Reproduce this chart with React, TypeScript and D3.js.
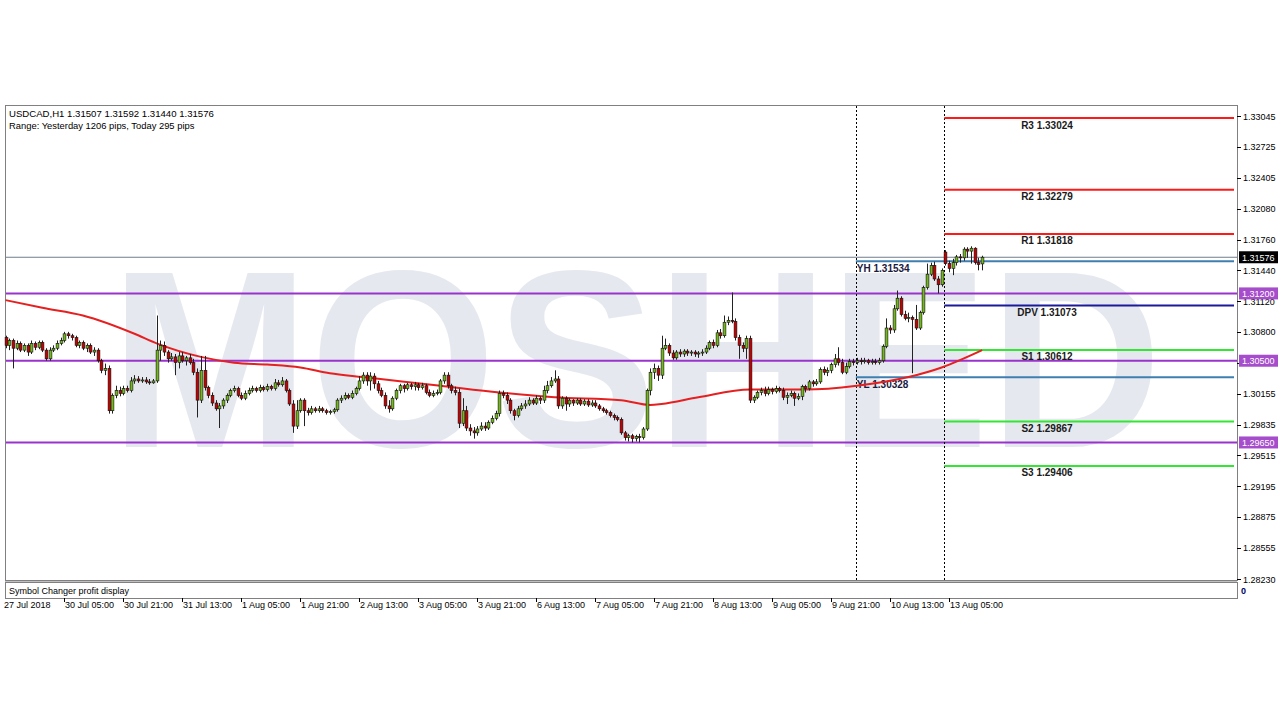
import React from "react";
import * as d3 from "d3";

// ---------- DATA ----------
const symbolHeader = "USDCAD,H1  1.31507 1.31592 1.31440 1.31576";
const rangeHeader = "Range: Yesterday 1206 pips, Today 295 pips";
const subWindowTitle = "Symbol Changer profit display";

// Hourly candles [open, high, low, close]
const candles: [number, number, number, number][] = [
  [1.3074,1.3076,1.3063,1.3066],[1.3066,1.3073,1.3061,1.3071],[1.3071,1.3073,1.3042,1.3063],[1.3063,1.3071,1.3061,1.3068],
  [1.3068,1.3070,1.3059,1.3061],[1.3061,1.3068,1.3059,1.3066],[1.3066,1.3068,1.3055,1.3059],[1.3059,1.3071,1.3057,1.3068],
  [1.3068,1.3070,1.3061,1.3064],[1.3064,1.3071,1.3062,1.3069],[1.3069,1.3071,1.3059,1.3061],[1.3061,1.3063,1.3050,1.3052],
  [1.3052,1.3064,1.3050,1.3061],[1.3061,1.3066,1.3059,1.3063],[1.3063,1.3071,1.3061,1.3068],[1.3068,1.3074,1.3066,1.3071],
  [1.3071,1.3080,1.3069,1.3078],[1.3078,1.3080,1.3073,1.3076],[1.3076,1.3078,1.3071,1.3074],[1.3074,1.3076,1.3064,1.3066],
  [1.3066,1.3071,1.3063,1.3069],[1.3069,1.3071,1.3061,1.3063],[1.3063,1.3068,1.3059,1.3066],[1.3066,1.3068,1.3057,1.3059],
  [1.3059,1.3064,1.3055,1.3061],[1.3061,1.3063,1.3048,1.3050],[1.3050,1.3052,1.3037,1.3040],[1.3040,1.3047,1.3035,1.3042],
  [1.3042,1.3045,1.2995,1.2998],[1.2998,1.3016,1.2995,1.3014],[1.3014,1.3024,1.3011,1.3019],[1.3019,1.3023,1.3013,1.3016],
  [1.3016,1.3024,1.3014,1.3021],[1.3021,1.3024,1.3017,1.3019],[1.3019,1.3033,1.3017,1.3029],[1.3029,1.3035,1.3026,1.3031],
  [1.3031,1.3034,1.3027,1.3029],[1.3029,1.3033,1.3027,1.3030],[1.3030,1.3033,1.3026,1.3028],[1.3028,1.3031,1.3025,1.3027],
  [1.3027,1.3031,1.3026,1.3029],[1.3029,1.3097,1.3027,1.3061],[1.3061,1.3071,1.3050,1.3066],[1.3066,1.3070,1.3055,1.3059],
  [1.3059,1.3061,1.3048,1.3052],[1.3052,1.3058,1.3050,1.3054],[1.3054,1.3057,1.3035,1.3048],[1.3048,1.3059,1.3042,1.3055],
  [1.3055,1.3059,1.3048,1.3050],[1.3050,1.3055,1.3045,1.3053],[1.3053,1.3057,1.3046,1.3048],[1.3048,1.3052,1.3035,1.3038],
  [1.3038,1.3042,1.2991,1.3009],[1.3009,1.3055,1.3006,1.3040],[1.3040,1.3055,1.3019,1.3022],[1.3022,1.3024,1.3011,1.3014],
  [1.3014,1.3017,1.3003,1.3006],[1.3006,1.3009,1.2998,1.3000],[1.3000,1.3006,1.2980,1.3003],[1.3003,1.3011,1.3000,1.3009],
  [1.3009,1.3016,1.3006,1.3014],[1.3014,1.3021,1.3012,1.3019],[1.3019,1.3024,1.3017,1.3021],[1.3021,1.3023,1.3012,1.3014],
  [1.3014,1.3017,1.3009,1.3011],[1.3011,1.3019,1.3009,1.3016],[1.3016,1.3022,1.3014,1.3019],[1.3019,1.3024,1.3017,1.3021],
  [1.3021,1.3023,1.3017,1.3019],[1.3019,1.3025,1.3017,1.3022],[1.3022,1.3024,1.3018,1.3020],[1.3020,1.3026,1.3018,1.3023],
  [1.3023,1.3025,1.3019,1.3021],[1.3021,1.3031,1.3019,1.3027],[1.3027,1.3030,1.3023,1.3025],[1.3025,1.3033,1.3023,1.3029],
  [1.3029,1.3031,1.3017,1.3019],[1.3019,1.3021,1.3003,1.3005],[1.3005,1.3009,1.2975,1.2982],[1.2982,1.3009,1.2979,1.2998],
  [1.2998,1.3011,1.2996,1.3009],[1.3009,1.3011,1.2982,1.2998],[1.2998,1.3001,1.2993,1.2996],[1.2996,1.3003,1.2994,1.3000],
  [1.3000,1.3002,1.2996,1.2998],[1.2998,1.3003,1.2996,1.3000],[1.3000,1.3002,1.2996,1.2998],[1.2998,1.3000,1.2994,1.2996],
  [1.2996,1.2999,1.2994,1.2997],[1.2997,1.3001,1.2995,1.2999],[1.2999,1.3011,1.2997,1.3009],[1.3009,1.3014,1.3006,1.3011],
  [1.3011,1.3017,1.3009,1.3014],[1.3014,1.3016,1.3010,1.3012],[1.3012,1.3019,1.3010,1.3016],[1.3016,1.3023,1.3014,1.3021],
  [1.3021,1.3034,1.3019,1.3029],[1.3029,1.3038,1.3026,1.3035],[1.3035,1.3038,1.3024,1.3029],[1.3029,1.3038,1.3019,1.3034],
  [1.3034,1.3037,1.3021,1.3026],[1.3026,1.3029,1.3016,1.3019],[1.3019,1.3022,1.3012,1.3014],[1.3014,1.3017,1.3000,1.3003],
  [1.3003,1.3009,1.2996,1.3000],[1.3000,1.3013,1.2998,1.3011],[1.3011,1.3021,1.3009,1.3019],[1.3019,1.3026,1.3016,1.3024],
  [1.3024,1.3026,1.3017,1.3021],[1.3021,1.3027,1.3019,1.3025],[1.3025,1.3027,1.3020,1.3023],[1.3023,1.3028,1.3019,1.3025],
  [1.3025,1.3027,1.3019,1.3022],[1.3022,1.3027,1.3020,1.3024],[1.3024,1.3026,1.3015,1.3017],[1.3017,1.3020,1.3012,1.3014],
  [1.3014,1.3019,1.3012,1.3016],[1.3016,1.3020,1.3014,1.3017],[1.3017,1.3031,1.3015,1.3029],[1.3029,1.3038,1.3026,1.3035],
  [1.3035,1.3038,1.3021,1.3024],[1.3024,1.3026,1.3016,1.3019],[1.3019,1.3023,1.3014,1.3017],[1.3017,1.3021,1.2980,1.2985],
  [1.2985,1.3011,1.2982,1.2998],[1.2998,1.3003,1.2977,1.2980],[1.2980,1.2984,1.2972,1.2977],[1.2977,1.2981,1.2969,1.2975],
  [1.2975,1.2982,1.2972,1.2979],[1.2979,1.2986,1.2977,1.2982],[1.2982,1.2986,1.2977,1.2980],[1.2980,1.2988,1.2978,1.2986],
  [1.2986,1.2993,1.2984,1.2990],[1.2990,1.2998,1.2988,1.2995],[1.2995,1.3019,1.2992,1.3016],[1.3016,1.3019,1.3011,1.3014],
  [1.3014,1.3017,1.3005,1.3009],[1.3009,1.3011,1.2995,1.2998],[1.2998,1.3000,1.2988,1.2993],[1.2993,1.3003,1.2991,1.3000],
  [1.3000,1.3006,1.2998,1.3003],[1.3003,1.3009,1.3000,1.3005],[1.3005,1.3012,1.3003,1.3009],[1.3009,1.3011,1.3004,1.3006],
  [1.3006,1.3014,1.3004,1.3011],[1.3011,1.3013,1.3005,1.3009],[1.3009,1.3024,1.3006,1.3019],[1.3019,1.3029,1.3016,1.3024],
  [1.3024,1.3033,1.3022,1.3029],[1.3029,1.3040,1.3027,1.3031],[1.3031,1.3034,1.3000,1.3003],[1.3003,1.3013,1.3000,1.3011],
  [1.3011,1.3013,1.2998,1.3005],[1.3005,1.3011,1.3002,1.3009],[1.3009,1.3010,1.3003,1.3006],[1.3006,1.3011,1.3004,1.3009],
  [1.3009,1.3011,1.3003,1.3005],[1.3005,1.3010,1.3003,1.3008],[1.3008,1.3010,1.3002,1.3004],[1.3004,1.3009,1.3002,1.3006],
  [1.3006,1.3009,1.3001,1.3003],[1.3003,1.3005,1.2998,1.3000],[1.3000,1.3002,1.2996,1.2998],[1.2998,1.3000,1.2994,1.2996],
  [1.2996,1.2998,1.2991,1.2993],[1.2993,1.2995,1.2988,1.2991],[1.2991,1.2993,1.2987,1.2989],[1.2989,1.2991,1.2973,1.2975],
  [1.2975,1.2977,1.2967,1.2970],[1.2970,1.2974,1.2966,1.2972],[1.2972,1.2974,1.2965,1.2969],[1.2969,1.2973,1.2966,1.2971],
  [1.2971,1.2974,1.2965,1.2970],[1.2970,1.2981,1.2968,1.2979],[1.2979,1.3021,1.2977,1.3019],[1.3019,1.3042,1.3014,1.3038],
  [1.3038,1.3047,1.3031,1.3042],[1.3042,1.3045,1.3029,1.3035],[1.3035,1.3076,1.3031,1.3063],[1.3063,1.3073,1.3061,1.3066],
  [1.3066,1.3068,1.3055,1.3058],[1.3058,1.3061,1.3051,1.3053],[1.3053,1.3061,1.3051,1.3059],[1.3059,1.3062,1.3054,1.3057],
  [1.3057,1.3062,1.3054,1.3060],[1.3060,1.3062,1.3055,1.3058],[1.3058,1.3061,1.3055,1.3059],[1.3059,1.3061,1.3054,1.3057],
  [1.3057,1.3060,1.3053,1.3058],[1.3058,1.3062,1.3055,1.3059],[1.3059,1.3066,1.3057,1.3063],[1.3063,1.3071,1.3061,1.3069],
  [1.3069,1.3072,1.3063,1.3066],[1.3066,1.3082,1.3064,1.3079],[1.3079,1.3083,1.3073,1.3076],[1.3076,1.3097,1.3074,1.3090],
  [1.3090,1.3096,1.3087,1.3092],[1.3092,1.3121,1.3089,1.3091],[1.3091,1.3094,1.3071,1.3074],[1.3074,1.3077,1.3052,1.3066],
  [1.3066,1.3069,1.3059,1.3063],[1.3063,1.3076,1.3052,1.3073],[1.3073,1.3076,1.3006,1.3009],[1.3009,1.3014,1.3006,1.3012],
  [1.3012,1.3019,1.3010,1.3017],[1.3017,1.3022,1.3014,1.3019],[1.3019,1.3023,1.3013,1.3016],[1.3016,1.3023,1.3014,1.3020],
  [1.3020,1.3022,1.3015,1.3018],[1.3018,1.3024,1.3016,1.3021],[1.3021,1.3023,1.3017,1.3019],[1.3019,1.3022,1.3009,1.3012],
  [1.3012,1.3017,1.3005,1.3014],[1.3014,1.3019,1.3012,1.3016],[1.3016,1.3018,1.3003,1.3011],[1.3011,1.3016,1.3009,1.3013],
  [1.3013,1.3025,1.3009,1.3023],[1.3023,1.3025,1.3017,1.3021],[1.3021,1.3030,1.3019,1.3028],[1.3028,1.3030,1.3023,1.3026],
  [1.3026,1.3031,1.3024,1.3028],[1.3028,1.3043,1.3026,1.3041],[1.3041,1.3044,1.3035,1.3038],[1.3038,1.3043,1.3034,1.3040],
  [1.3040,1.3048,1.3037,1.3046],[1.3046,1.3057,1.3043,1.3052],[1.3052,1.3064,1.3045,1.3048],[1.3048,1.3052,1.3036,1.3038],
  [1.3038,1.3048,1.3036,1.3044],[1.3044,1.3052,1.3042,1.3049],[1.3049,1.3052,1.3045,1.3048],[1.3048,1.3053,1.3046,1.3050],
  [1.3050,1.3053,1.3046,1.3049],[1.3049,1.3053,1.3047,1.3050],[1.3050,1.3052,1.3046,1.3048],[1.3048,1.3052,1.3046,1.3049],
  [1.3049,1.3052,1.3046,1.3048],[1.3048,1.3053,1.3046,1.3050],[1.3050,1.3067,1.3048,1.3065],[1.3065,1.3094,1.3063,1.3084],
  [1.3084,1.3087,1.3078,1.3082],[1.3082,1.3108,1.3079,1.3104],[1.3104,1.3123,1.3102,1.3115],[1.3115,1.3117,1.3096,1.3098],
  [1.3098,1.3102,1.3092,1.3094],[1.3094,1.3100,1.3090,1.3095],[1.3095,1.3097,1.3037,1.3093],[1.3093,1.3108,1.3082,1.3084],
  [1.3084,1.3102,1.3082,1.3100],[1.3100,1.3128,1.3098,1.3126],[1.3126,1.3151,1.3124,1.3140],[1.3140,1.3152,1.3138,1.3149],
  [1.3149,1.3153,1.3133,1.3135],[1.3135,1.3138,1.3120,1.3129],[1.3129,1.3146,1.3127,1.3144],[1.3163,1.3165,1.3149,1.3151],
  [1.3151,1.3154,1.3142,1.3146],[1.3146,1.3156,1.3139,1.3152],[1.3152,1.3160,1.3149,1.3158],[1.3158,1.3161,1.3152,1.3157],
  [1.3157,1.3168,1.3154,1.3166],[1.3166,1.3168,1.3157,1.3164],[1.3164,1.3169,1.3151,1.3167],[1.3167,1.3168,1.3150,1.3152],
  [1.3152,1.3157,1.3144,1.3150],[1.31507,1.31592,1.3144,1.31576],
];

// Moving average, read at [bar index, value]
const maPoints: [number, number][] = [
  [0, 1.3113], [10, 1.3105], [21, 1.3097], [35, 1.3078], [41, 1.3068], [53, 1.3054], [62, 1.3048],
  [71, 1.3046], [80, 1.3043], [88, 1.3037], [97, 1.3033], [118, 1.3024], [134, 1.3017], [149, 1.3012],
  [167, 1.3009], [175, 1.3004], [178, 1.3005], [188, 1.3012], [202, 1.3020], [217, 1.3020], [231, 1.3024],
  [245, 1.3033], [254, 1.3043], [265, 1.3061],
];

const yTicks = [1.33045, 1.32725, 1.32405, 1.3208, 1.3176, 1.3144, 1.3112, 1.308, 1.3048, 1.30155, 1.29835, 1.29515, 1.29195, 1.28875, 1.28555, 1.2823];
const xLabelBars = [0, 16, 32, 48, 64, 80, 96, 112, 128, 144, 160, 176, 192, 208, 224, 240, 256];
const xLabels = ["27 Jul 2018", "30 Jul 05:00", "30 Jul 21:00", "31 Jul 13:00", "1 Aug 05:00", "1 Aug 21:00", "2 Aug 13:00", "3 Aug 05:00", "3 Aug 21:00", "6 Aug 13:00", "7 Aug 05:00", "7 Aug 21:00", "8 Aug 13:00", "9 Aug 05:00", "9 Aug 21:00", "10 Aug 13:00", "13 Aug 05:00"];

const pivotNames = ["R3", "R2", "R1", "DPV", "S1", "S2", "S3"];
const pivotValues = [1.33024, 1.32279, 1.31818, 1.31073, 1.30612, 1.29867, 1.29406];
const pivotColors = ["#ff1a1a", "#ff1a1a", "#ff1a1a", "#1a1a9a", "#33e633", "#33e633", "#33e633"];

const yesterdayNames = ["YH", "YL"];
const yesterdayValues = [1.31534, 1.30328];
const levelValues = [1.312, 1.305, 1.2965];
const bidPrice = 1.31576;
const separatorBars = [231, 255];

// ---------- LAYOUT ----------
const L = 5, R = 1237, T = 105, B = 580;
const SUB_T = 582, SUB_B = 598;

export default function App() {
  const x = d3.scaleLinear().domain([0, 256]).range([5.5, 949]);
  const y = d3.scaleLinear().domain([1.2823, 1.33045]).range([579, 116]);
  const maLine = d3.line<[number, number]>().x((d) => x(d[0])).y((d) => y(d[1])).curve(d3.curveMonotoneX);
  const fmt = d3.format(".5f");
  const font = "'Liberation Sans', Arial, sans-serif";
  const bw = 2.8;

  return (
    <svg width={1280} height={720} style={{ position: "absolute", left: 0, top: 0, background: "#fff" }} fontFamily={font}>
      <rect x={0} y={0} width={1280} height={720} fill="#fff" />
      {/* watermark */}
      <text x={110} y={447} fontSize={252} fontWeight="bold" fill="#e5e8ef" textLength={1052} lengthAdjust="spacingAndGlyphs">MOSHED</text>

      {/* frames */}
      <rect x={L + 0.5} y={T + 0.5} width={R - L} height={B - T} fill="none" stroke="#808080" />
      <rect x={L + 0.5} y={SUB_T + 0.5} width={R - L} height={SUB_B - SUB_T} fill="none" stroke="#808080" />
      <line x1={L} x2={R} y1={B + 1.5} y2={B + 1.5} stroke="#c0c0c0" />

      {/* horizontal key levels */}
      {levelValues.map((v, i) => (
        <line key={"lv" + i} x1={L + 1} x2={R} y1={y(v)} y2={y(v)} stroke="#9933cc" strokeWidth={2} />
      ))}
      {/* bid line */}
      <line x1={L + 1} x2={R} y1={y(bidPrice)} y2={y(bidPrice)} stroke="#6f7d8c" strokeWidth={1} />

      {/* separators */}
      {separatorBars.map((b, i) => (
        <line key={"sep" + i} x1={Math.round(x(b)) - 0.5} x2={Math.round(x(b)) - 0.5} y1={T + 1} y2={B} stroke="#000" strokeDasharray="2,2" />
      ))}

      {/* yesterday high / low */}
      {yesterdayValues.map((v, i) => (
        <g key={"yd" + i}>
          <line x1={x(separatorBars[0]) - 1} x2={R - 3} y1={y(v)} y2={y(v)} stroke="#3f7fb0" strokeWidth={2} />
          <text x={x(separatorBars[0])} y={y(v) + 10.5} fontSize={10} fontWeight="bold" fill="#1a1a40">{yesterdayNames[i] + " " + fmt(v)}</text>
        </g>
      ))}

      {/* pivot lines */}
      {pivotValues.map((v, i) => (
        <g key={"pv" + i}>
          <line x1={x(separatorBars[1]) - 1} x2={R - 3} y1={y(v)} y2={y(v)} stroke={pivotColors[i]} strokeWidth={2} />
          <text x={1047} y={y(v) + 10.5} fontSize={10} fontWeight="bold" fill="#1a1a1a" textAnchor="middle">{pivotNames[i] + " " + fmt(v)}</text>
        </g>
      ))}

      {/* moving average */}
      <path d={maLine(maPoints) || ""} fill="none" stroke="#e62020" strokeWidth={2} />

      {/* candles */}
      {candles.map((c, i) => {
        const [o, h, l, cl] = c;
        const cx = Math.round(x(i)) + 0.5;
        const top = y(Math.max(o, cl));
        const bot = y(Math.min(o, cl));
        const up = cl >= o;
        return (
          <g key={"c" + i}>
            <line x1={cx} x2={cx} y1={y(h)} y2={y(l)} stroke="#222" strokeWidth={1} />
            <rect x={cx - bw / 2} y={top} width={bw} height={Math.max(1, bot - top)} fill={up ? "#74b81c" : "#c40000"} stroke="#111" strokeWidth={0.6} />
          </g>
        );
      })}

      {/* header */}
      <text x={9} y={117} fontSize={9.6} fill="#000">{symbolHeader}</text>
      <text x={9} y={129} fontSize={9.4} fill="#000">{rangeHeader}</text>

      {/* y axis */}
      {yTicks.map((v, i) => (
        <g key={"yt" + i}>
          <line x1={R} x2={R + 4} y1={Math.round(y(v)) + 0.5} y2={Math.round(y(v)) + 0.5} stroke="#000" />
          <text x={R + 6} y={y(v) + 3.5} fontSize={9} fill="#000">{fmt(v)}</text>
        </g>
      ))}
      {levelValues.map((v, i) => (
        <g key={"ll" + i}>
          <rect x={R + 2} y={y(v) - 6} width={39} height={12} fill="#a64dcc" />
          <text x={R + 5} y={y(v) + 3.5} fontSize={9} fill="#fff">{fmt(v)}</text>
        </g>
      ))}
      <rect x={R + 2} y={y(bidPrice) - 6} width={39} height={12} fill="#000" />
      <text x={R + 5} y={y(bidPrice) + 3.5} fontSize={9} fill="#fff">{fmt(bidPrice)}</text>

      {/* sub window */}
      <text x={9} y={594} fontSize={9} fill="#000">{subWindowTitle}</text>
      <text x={R + 4} y={594} fontSize={9} fontWeight="bold" fill="#000066">0</text>

      {/* x axis */}
      {xLabelBars.map((b, i) => (
        <g key={"xl" + i}>
          {i > 0 && <line x1={Math.round(x(b)) + 0.5} x2={Math.round(x(b)) + 0.5} y1={SUB_B} y2={SUB_B + 4} stroke="#000" />}
          <text x={i === 0 ? 4 : Math.round(x(b)) + 1} y={608} fontSize={9} fill="#000">{xLabels[i]}</text>
        </g>
      ))}
    </svg>
  );
}
